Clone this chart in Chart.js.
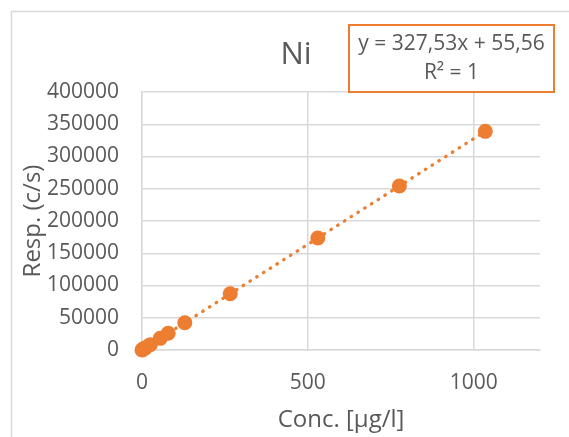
<!DOCTYPE html>
<html>
<head>
<meta charset="utf-8">
<script src="https://cdn.jsdelivr.net/npm/chart.js@4"></script>
<style>
  html, body { margin: 0; padding: 0; background: #fff; }
</style>
</head>
<body>
<canvas id="grafico" width="569" height="437"></canvas>
<script>
// Curva de calibração - Ni
const concentracoes = [0, 2, 5, 10, 25, 55, 79, 129, 266, 530, 776, 1035];
const respostas = [0, 700, 1700, 3300, 8300, 18100, 26000, 42300, 87200, 173700, 254200, 339000];

// linha de tendência (extremos)
const tendenciaX = [0, 1035];
const tendenciaY = [56, 339050];

const ticksX = [0, 500, 1000];
const ticksY = [0, 50000, 100000, 150000, 200000, 250000, 300000, 350000, 400000];

const titulo = 'Ni';
const equacao = ['y = 327,53x + 55,56', 'R\u00b2 = 1'];

const LARANJA = '#ED7D31';
const CINZA_TEXTO = '#595959';
const CINZA_GRADE = '#d9d9d9';
const FONTE = "'Open Sans', sans-serif";

const moldura = {
  id: 'moldura',
  beforeDraw(chart) {
    const c = chart.ctx;
    c.save();
    c.fillStyle = '#fff';
    c.fillRect(0, 0, chart.width, chart.height);
    c.strokeStyle = CINZA_GRADE;
    c.lineWidth = 1.5;
    c.beginPath();
    c.moveTo(11.5, chart.height);
    c.lineTo(11.5, 11.5);
    c.lineTo(chart.width, 11.5);
    c.stroke();
    c.restore();
  },
  afterDraw(chart) {
    const c = chart.ctx;
    c.save();
    // titulo
    c.fillStyle = CINZA_TEXTO;
    c.font = '31px ' + FONTE;
    c.textAlign = 'center';
    c.textBaseline = 'middle';
    c.fillText(titulo, 296, 55);

    // caixa da equação
    c.fillStyle = '#fff';
    c.fillRect(349, 25, 205, 67);
    c.strokeStyle = LARANJA;
    c.lineWidth = 2;
    c.strokeRect(349, 25, 205, 67);
    c.fillStyle = CINZA_TEXTO;
    c.font = '21px ' + FONTE;
    c.fillText(equacao[0], 451.5, 44);
    c.fillText(equacao[1], 451.5, 73);
    c.restore();
  }
};

const ctx = document.getElementById('grafico').getContext('2d');

new Chart(ctx, {
  type: 'scatter',
  data: {
    datasets: [
      {
        label: 'Ni',
        data: concentracoes.map((x, i) => ({ x: x, y: respostas[i] })),
        backgroundColor: LARANJA,
        borderWidth: 0,
        pointRadius: 7.5,
        pointHoverRadius: 7.5,
        clip: false
      },
      {
        label: 'Linear',
        data: tendenciaX.map((x, i) => ({ x: x, y: tendenciaY[i] })),
        showLine: true,
        borderColor: LARANJA,
        borderWidth: 3.3,
        borderDash: [0.5, 7.5],
        borderCapStyle: 'round',
        pointRadius: 0,
        clip: false
      }
    ]
  },
  options: {
    responsive: false,
    animation: false,
    layout: {
      padding: { top: 92, right: 29, left: 0, bottom: 0 }
    },
    plugins: {
      legend: { display: false },
      title: { display: false },
      tooltip: { enabled: false }
    },
    scales: {
      x: {
        type: 'linear',
        min: 0,
        max: 1200,
        afterBuildTicks: (scale) => { scale.ticks = ticksX.map(v => ({ value: v })); },
        afterFit: (scale) => { scale.height = 87; },
        ticks: {
          color: CINZA_TEXTO,
          font: { family: FONTE, size: 21 },
          padding: 20,
          maxRotation: 0,
          callback: (v) => String(v)
        },
        grid: { color: CINZA_GRADE, lineWidth: 1.5, drawTicks: false },
        border: { display: true, color: CINZA_GRADE, width: 1.5 },
        title: {
          display: true,
          text: 'Conc. [\u00b5g/l]',
          color: CINZA_TEXTO,
          font: { family: FONTE, size: 24 },
          padding: { top: 0, bottom: 2 }
        }
      },
      y: {
        min: 0,
        max: 400000,
        afterBuildTicks: (scale) => { scale.ticks = ticksY.map(v => ({ value: v })); },
        afterFit: (scale) => { scale.width = 142; },
        ticks: {
          color: CINZA_TEXTO,
          font: { family: FONTE, size: 21 },
          padding: 23,
          callback: (v) => String(v)
        },
        grid: { color: CINZA_GRADE, lineWidth: 1.5, drawTicks: false },
        border: { display: true, color: CINZA_GRADE, width: 1.5 },
        title: {
          display: true,
          text: 'Resp. (c/s)',
          color: CINZA_TEXTO,
          font: { family: FONTE, size: 24 },
          padding: { top: 19, bottom: 0 }
        }
      }
    }
  },
  plugins: [moldura]
});
</script>
</body>
</html>
